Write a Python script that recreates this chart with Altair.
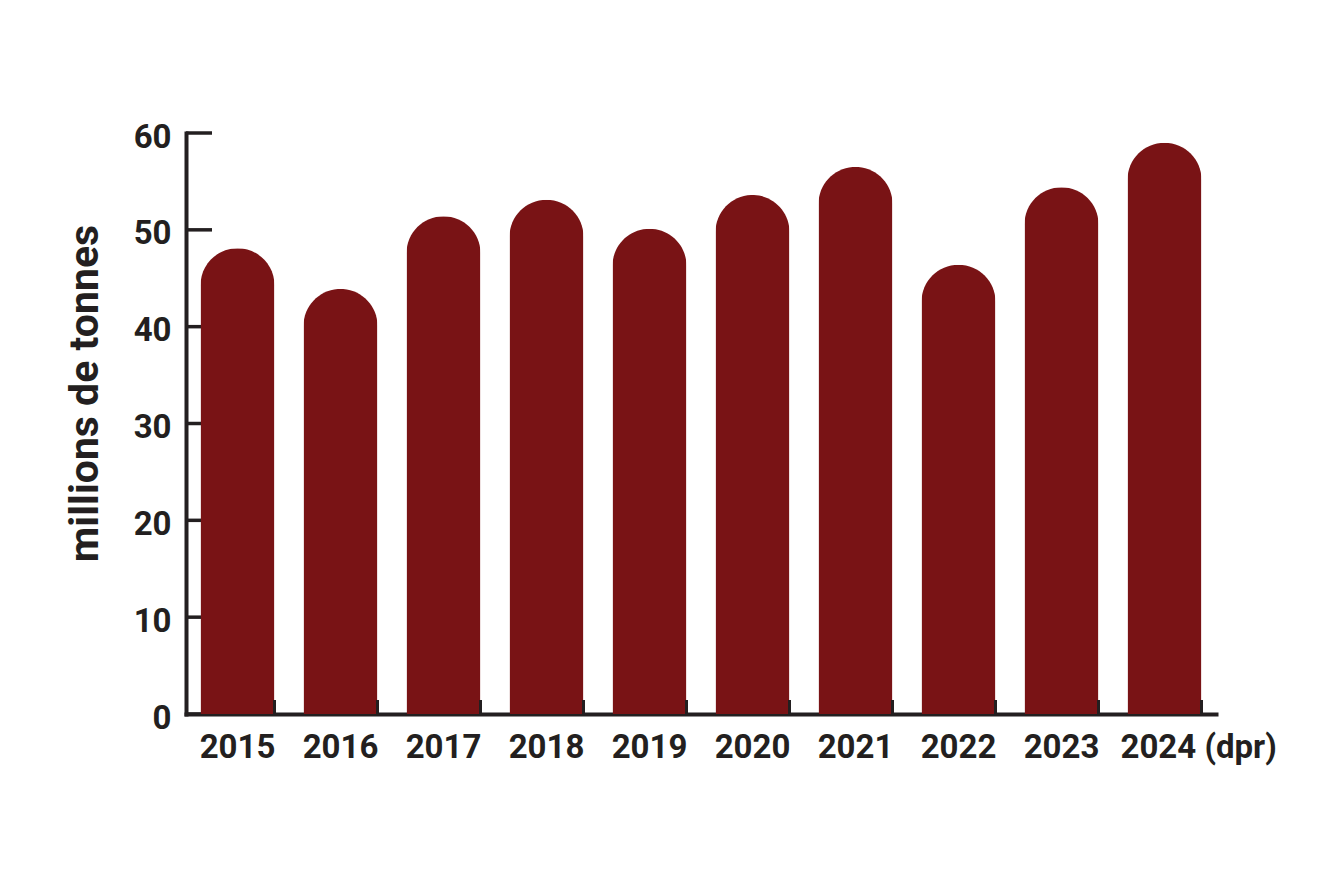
import altair as alt
import pandas as pd

years = ["2015", "2016", "2017", "2018", "2019", "2020", "2021", "2022", "2023", "2024"]
values = [48.1, 43.9, 51.4, 53.1, 50.1, 53.6, 56.5, 46.4, 54.4, 59.0]
y_ticks = [0, 10, 20, 30, 40, 50, 60]

FONT = "Roboto, Liberation Sans, sans-serif"
INK = "#231F20"
BAR = "#791315"
W, H = 1030, 581

df = pd.DataFrame({"year": years, "value": values})
tick_df = pd.DataFrame({"t": y_ticks})

xscale = alt.Scale(domain=years, paddingInner=0.2816, paddingOuter=0.1408)
yscale = alt.Scale(domain=[0, 60], nice=False)

x_axis = alt.Axis(
    title=None, ticks=False, domainColor=INK, domainWidth=4, domainCap="square",
    labelFont=FONT, labelFontSize=33, labelFontWeight="bold", labelColor=INK,
    labelPadding=17, labelAngle=0, labelBaseline="top", labelLimit=400,
    labelExpr="datum.value == '2024' ? '2024 (dpr)' : datum.value",
    labelAlign={"condition": {"test": "datum.value == '2024'", "value": "left"}, "value": "center"},
    labelOffset={"condition": {"test": "datum.value == '2024'", "value": -44}, "value": 0},
)
y_axis = alt.Axis(
    title="millions de tonnes", values=y_ticks, ticks=False, grid=False,
    domainColor=INK, domainWidth=4, domainCap="square",
    labelFont=FONT, labelFontSize=33, labelFontWeight="bold", labelColor=INK,
    labelPadding=15, labelBaseline="middle", labelOffset=4,
    titleFont=FONT, titleFontSize=41, titleFontWeight="bold", titleColor=INK,
    titleX=-80, titleY=260, titleAngle=-90,
)

yt = alt.Chart(tick_df).mark_rule(color=INK, strokeWidth=3.5).encode(
    y=alt.Y("t:Q", scale=yscale, axis=y_axis),
    x=alt.value(0), x2=alt.value(26),
)

bars = alt.Chart(df).mark_bar(
    color=BAR, cornerRadiusTopLeft=37, cornerRadiusTopRight=37
).encode(
    x=alt.X("year:N", scale=xscale, axis=x_axis, sort=years),
    y=alt.Y("value:Q", scale=yscale),
)

xt = alt.Chart(df).mark_rule(color=INK, strokeWidth=3).encode(
    x=alt.X("year:N", scale=xscale, bandPosition=1, sort=years),
    y=alt.value(H - 14), y2=alt.value(H),
)

chart = alt.layer(yt, bars, xt).properties(
    width=W, height=H,
    autosize=alt.AutoSizeParams(type="none"),
    padding={"left": 178, "top": 125, "right": 90, "bottom": 100},
).configure(background="white").configure_view(stroke=None)

chart.save("out.html", embed_options={"renderer": "svg", "actions": False})
